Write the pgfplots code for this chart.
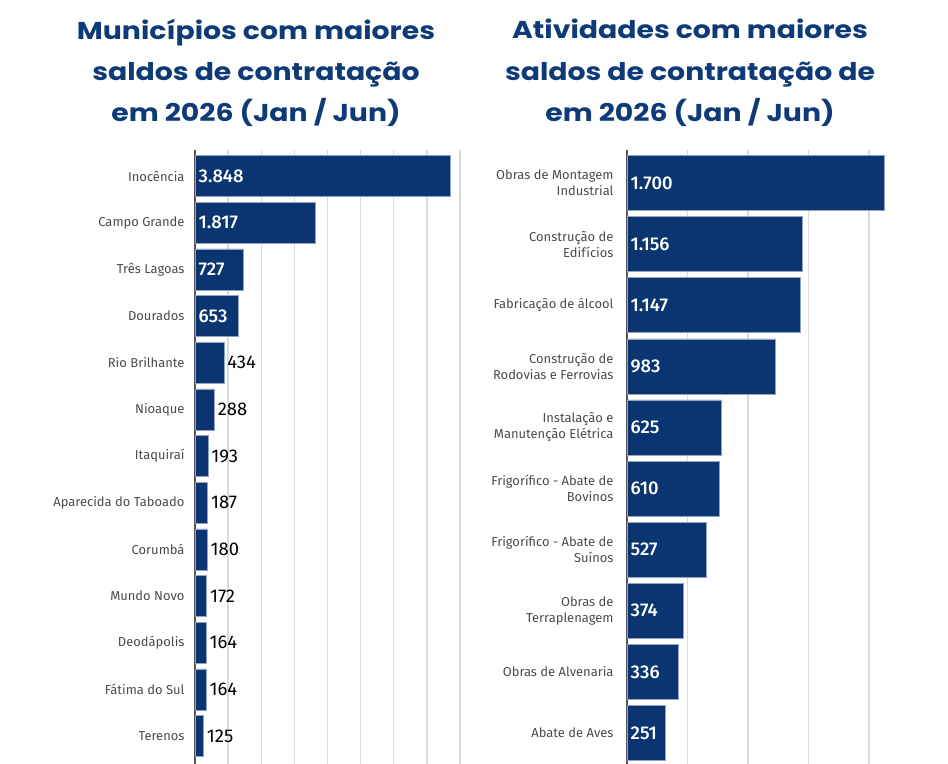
\documentclass[border=0pt]{standalone}
\usepackage{fontspec}
\setmainfont{Fira Sans}
\newfontfamily\titlefont{Poppins}[FakeStretch=1.16]
\newfontfamily\firamed{Fira Sans Medium}
\usepackage{pgfplots}
\usepackage{pgfplotstable}
\pgfplotsset{compat=1.18}

\definecolor{barblue}{HTML}{0A3571}
\definecolor{titleblue}{HTML}{0E3B78}
\definecolor{labgray}{HTML}{4A4A4A}
\definecolor{gridgray}{HTML}{DADADA}
\definecolor{axisgray}{HTML}{555555}

% municipios
\pgfplotstableread[col sep=comma]{
idx,val
0,3848
1,1817
2,727
3,653
4,434
5,288
6,193
7,187
8,180
9,172
10,164
11,164
12,125
}\municipios

\pgfplotstableread[col sep=comma]{
idx,x,lbl
0,0,3.848
1,0,1.817
2,0,727
3,0,653
}\munIn

\pgfplotstableread[col sep=comma]{
idx,x,lbl
4,434,434
5,288,288
6,193,193
7,187,187
8,180,180
9,172,172
10,164,164
11,164,164
12,125,125
}\munOut

% atividades
\pgfplotstableread[col sep=comma]{
idx,val,x,lbl
0,1700,0,1.700
1,1156,0,1.156
2,1147,0,1.147
3,983,0,983
4,625,0,625
5,610,0,610
6,527,0,527
7,374,0,374
8,336,0,336
9,251,0,251
}\atividades

\pgfplotsset{
  hbar/.style={
    scale only axis, anchor=south west,
    height=614bp,
    y dir=reverse,
    axis line style={draw=none},
    tick style={draw=none},
    xmin=0,
    xmajorgrids,
    grid style={gridgray, line width=1.3bp},
    xticklabels={},
    yticklabel style={font=\fontsize{13}{16}\selectfont, text=labgray, align=right, xshift=-7bp},
    extra x ticks={0},
    extra x tick labels={},
    extra x tick style={grid style={axisgray, line width=2.4bp}},
    clip=false,
  },
  vin/.style={draw=none, mark=none, nodes near coords, point meta=explicit symbolic,
    nodes near coords style={anchor=west, text=white, inner sep=1.5bp, xshift=2bp,
      font=\firamed\fontsize{18.5}{18.5}\selectfont}},
  vout/.style={draw=none, mark=none, nodes near coords, point meta=explicit symbolic,
    nodes near coords style={anchor=west, text=black, inner sep=1.5bp, xshift=2bp,
      font=\fontsize{18.5}{18.5}\selectfont}},
}

\begin{document}
\begin{tikzpicture}
\path[use as bounding box] (0,0) rectangle (948bp,764bp);

\node[align=center, text=titleblue, font=\titlefont\bfseries\fontsize{24.5}{41.5}\selectfont]
  at (256bp,691bp) {Municípios com maiores\\saldos de contratação\\em 2026 (Jan / Jun)};
\node[align=center, text=titleblue, font=\titlefont\bfseries\fontsize{24.5}{41.5}\selectfont]
  at (690bp,691bp) {Atividades com maiores\\saldos de contratação de\\em 2026 (Jan / Jun)};

\begin{axis}[hbar,
  at={(195bp,0bp)}, width=265bp,
  xmax=4000, xtick={500,1000,...,4000},
  ymin=-0.557, ymax=12.6,
  ytick={0,...,12},
  yticklabels={Inocência, Campo Grande, Três Lagoas, Dourados, Rio Brilhante, Nioaque,
    Itaquiraí, Aparecida do Taboado, Corumbá, Mundo Novo, Deodápolis, Fátima do Sul, Terenos},
]
\addplot[xbar, bar width=0.88, fill=barblue, draw=barblue!45!white, line width=0.5bp]
  table[x=val, y=idx] {\municipios};
\addplot[vin] table[x=x, y=idx, meta=lbl] {\munIn};
\addplot[vout] table[x=x, y=idx, meta=lbl] {\munOut};
\end{axis}

\begin{axis}[hbar,
  at={(627bp,0bp)}, width=257bp,
  xmax=1700, xtick={400,800,1200,1600},
  ymin=-0.54, ymax=9.507,
  ytick={0,...,9},
  yticklabels={{Obras de Montagem\\Industrial}, {Construção de\\Edifícios}, {Fabricação de álcool},
    {Construção de\\Rodovias e Ferrovias}, {Instalação e\\Manutenção Elétrica},
    {Frigorífico - Abate de\\Bovinos}, {Frigorífico - Abate de\\Suínos},
    {Obras de\\Terraplenagem}, {Obras de Alvenaria}, {Abate de Aves}},
  yticklabel style={font=\fontsize{13}{16}\selectfont, xshift=-3bp},
]
\addplot[xbar, bar width=0.9, fill=barblue, draw=barblue!45!white, line width=0.5bp]
  table[x=val, y=idx] {\atividades};
\addplot[vin] table[x=x, y=idx, meta=lbl] {\atividades};
\end{axis}
\end{tikzpicture}
\end{document}
